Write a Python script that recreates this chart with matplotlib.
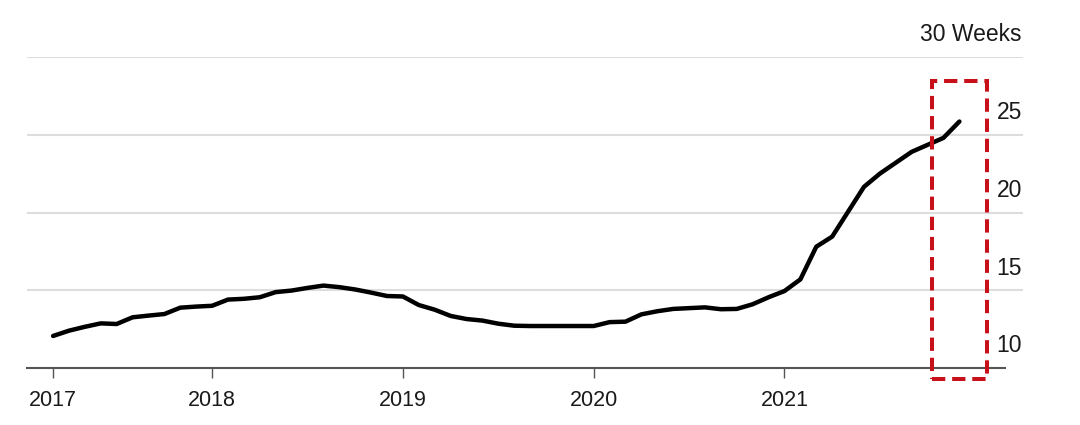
import matplotlib.pyplot as plt
from matplotlib.patches import Rectangle
from matplotlib.transforms import blended_transform_factory

plt.rcParams['font.family'] = ['Liberation Sans', 'DejaVu Sans']

# monthly values, Mar 2017 .. Dec 2021 (weeks)
months = list(range(58))
weeks = [12.06, 12.4, 12.65, 12.87, 12.83, 13.26, 13.37, 13.47, 13.88, 13.95,
         14.0, 14.4, 14.45, 14.55, 14.88, 14.98, 15.15, 15.3, 15.2, 15.05,
         14.85, 14.63, 14.6, 14.05, 13.75, 13.35, 13.15, 13.05, 12.85, 12.72,
         12.7, 12.7, 12.7, 12.7, 12.7, 12.95, 12.98, 13.45, 13.65, 13.8,
         13.85, 13.9, 13.78, 13.8, 14.1, 14.55, 14.95, 15.7, 17.8, 18.45,
         20.05, 21.65, 22.5, 23.2, 23.9, 24.35, 24.8, 25.85]

year_ticks = [0, 10, 22, 34, 46]
year_labels = ['2017', '2018', '2019', '2020', '2021']
y_levels = [10, 15, 20, 25, 30]
y_labels = ['10', '15', '20', '25', '30 Weeks']

fig = plt.figure(figsize=(10.8, 4.25), dpi=100)
ax = fig.add_axes([0.025, 0.1341, 0.9222, 0.7318])

ax.set_xlim(-1.64, 61.0)
ax.set_ylim(10, 30)

for lv in y_levels[1:]:
    ax.axhline(lv, color='#dddddd', lw=1.5, zorder=1)

ax.plot(months, weeks, color='black', lw=3.2, solid_capstyle='round',
        solid_joinstyle='round', zorder=3)

for s in ['top', 'right', 'left']:
    ax.spines[s].set_visible(False)
ax.spines['bottom'].set_color('#555555')
ax.spines['bottom'].set_linewidth(1.5)
ax.spines['bottom'].set_bounds(-1.64, 59.9)

ax.set_yticks([])
ax.set_xticks(year_ticks)
ax.set_xticklabels(year_labels, fontsize=15.5, color='#1a1a1a')
ax.tick_params(axis='x', length=7, width=1, color='#555555', pad=9)

trans = blended_transform_factory(ax.transAxes, ax.transData)
for lv, lab in zip(y_levels, y_labels):
    ax.annotate(lab, xy=(0.999, lv), xycoords=trans, xytext=(0, 16),
                textcoords='offset points', ha='right', va='center',
                fontsize=16.5, color='#1a1a1a')

# highlighted box around latest months
box = Rectangle((55.28, 9.29), 58.74 - 55.28, 28.44 - 9.29, fill=False,
                edgecolor='#c8101a', lw=2.9, linestyle=(0, (3.3, 1.7)),
                clip_on=False, zorder=4)
ax.add_patch(box)

fig.savefig('out.png', dpi=100)
